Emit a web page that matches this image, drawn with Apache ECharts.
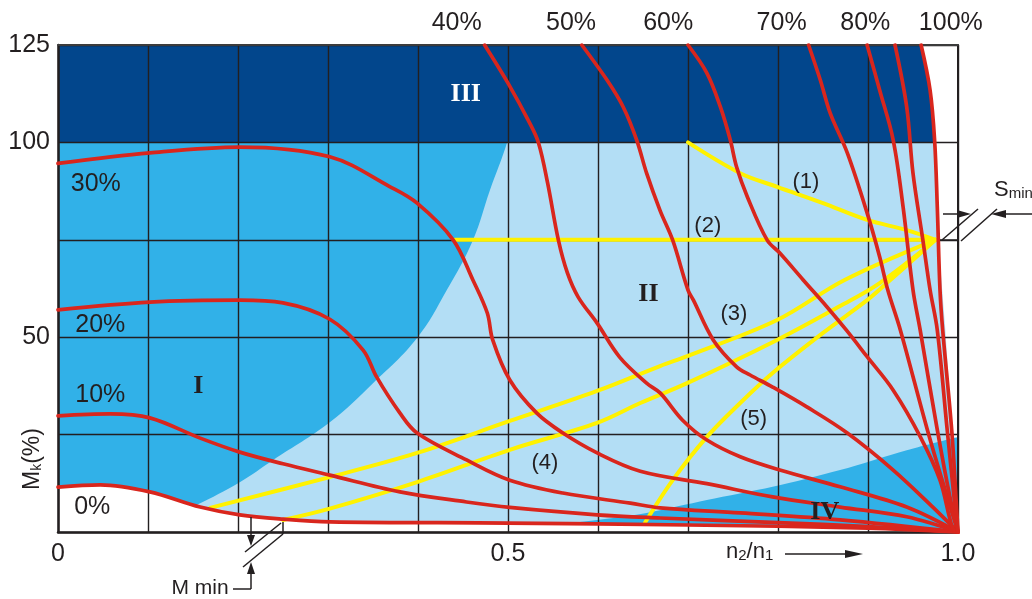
<!DOCTYPE html>
<html><head><meta charset="utf-8">
<script src="https://cdn.jsdelivr.net/npm/echarts@6/dist/echarts.min.js"></script>
<style>html,body{margin:0;padding:0;background:#fff}#c{width:1032px;height:599px}</style>
</head><body><div id="c"></div>
<script>
// ---------- tick labels ----------
const X_TICK_LABELS = [[0, '0'], [0.5, '0.5'], [1, '1.0']];
const Y_TICK_LABELS = [[125, '125'], [100, '100'], [50, '50']];

// ---------- background regions (x = n2/n1, y = Mk %) ----------
const regionII  = [[0,100],[0.974,100],[0.978,75],[0.986,51.8],[0.994,23.6],[1,0]];
const regionI   = [[0,110],[0.51,110],[0.499,100],[0.48,87.8],[0.461,74.9],[0.432,62.1],[0.399,49.8],[0.35,38.2],[0.302,28.2],[0.239,18.5],[0.202,12.8],[0.154,6.9],[0.12,3]];
const regionIV  = [[0.42,0],[0.5,0.8],[0.599,3.1],[0.654,4.9],[0.721,8.2],[0.794,11.6],[0.869,15.9],[0.943,21.0],[1,24.4]];
const regionIII = [[0,125],[0.959,125],[0.969,113.4],[0.974,100]];

// ---------- red curves (slip / speed percentages) ----------
const slip0   = [[0,11.5],[0.047,12.1],[0.102,10.3],[0.158,6.4],[0.202,4.4],[0.25,3.3],[0.302,2.6],[0.5,2.3],[0.7,1.8],[0.9,1.0],[1,0]];
const slip10  = [[0,29.8],[0.058,30.3],[0.102,29.3],[0.158,24.1],[0.202,20.5],[0.25,17.5],[0.302,14.6],[0.38,10.3],[0.454,7.7],[0.502,6.3],[0.599,4.4],[0.669,3.6],[0.8,2.4],[0.9,1.4],[1,0]];
const slip20  = [[0,57.0],[0.102,59.0],[0.202,59.5],[0.25,58.8],[0.302,54.6],[0.339,46.7],[0.354,39.8],[0.38,30.5],[0.399,25.4],[0.454,18.5],[0.502,13.3],[0.561,10.0],[0.636,7.4],[0.669,6.2],[0.758,4.9],[0.869,3.1],[1,0]];
const slip30  = [[0,94.6],[0.102,97.3],[0.202,98.8],[0.302,96.3],[0.369,88.6],[0.399,84.4],[0.439,75.0],[0.461,64.7],[0.477,56.2],[0.483,49.3],[0.502,39.0],[0.532,30.5],[0.561,25.4],[0.599,20.3],[0.647,15.6],[0.721,12.4],[0.794,9.0],[0.869,6.4],[0.943,3.9],[1,0]];
const slip40  = [[0.474,125],[0.5,115.2],[0.524,105.0],[0.534,99.8],[0.544,89.6],[0.556,74.9],[0.566,66.5],[0.578,60.3],[0.599,53.6],[0.624,44.9],[0.654,38.2],[0.669,35.7],[0.694,28.7],[0.721,23.6],[0.758,19.3],[0.802,15.9],[0.869,11.6],[0.943,6.4],[1,0]];
const slip50  = [[0.582,125],[0.61,116.0],[0.628,109.1],[0.643,100.6],[0.654,92.1],[0.669,82.5],[0.683,74.9],[0.7,62.1],[0.706,59.5],[0.728,49.3],[0.754,42.4],[0.769,40.3],[0.794,37.2],[0.832,32.1],[0.877,25.4],[0.928,15.9],[0.972,6.4],[1,0]];
const slip60  = [[0.7,125],[0.721,117.8],[0.736,109.1],[0.747,100.6],[0.754,93.7],[0.766,86.0],[0.788,74.9],[0.802,71.6],[0.828,64.7],[0.854,57.9],[0.876,51.8],[0.899,45.0],[0.928,36.4],[0.958,24.5],[0.98,13.3],[0.994,1.0],[1,0]];
const slip70  = [[0.834,125],[0.847,116.0],[0.858,107.5],[0.877,97.3],[0.899,81.9],[0.913,70.6],[0.922,62.1],[0.936,51.8],[0.966,26.2],[0.988,9.0],[1,0]];
const slip80  = [[0.899,125],[0.913,113.4],[0.928,100.6],[0.939,83.4],[0.95,62.1],[0.958,51.8],[0.977,26.2],[0.991,9.0],[1,0]];
const slip90  = [[0.93,125],[0.943,109.1],[0.95,92.1],[0.961,74.9],[0.969,62.1],[0.977,51.8],[0.988,26.2],[0.996,8],[1,0]];
const slip100 = [[0.959,125],[0.969,113.4],[0.974,100.6],[0.977,83.4],[0.98,62.1],[0.983,51.8],[0.993,26.2],[0.998,8],[1,0]];

// ---------- yellow load curves (1)-(5) ----------
const load1 = [[0.7,100],[0.758,92.1],[0.799,88.6],[0.85,84.4],[0.899,80.1],[0.943,77.5],[0.975,75]];
const load2 = [[0.441,75],[0.975,75]];
const load3 = [[0.169,6.2],[0.302,14.1],[0.399,20.3],[0.502,28.5],[0.599,36.2],[0.669,42.6],[0.7,45.2],[0.799,54.4],[0.874,64.7],[0.975,75]];
const load4 = [[0.25,3.1],[0.302,6.0],[0.399,12.8],[0.502,21.1],[0.599,28.0],[0.647,33.1],[0.699,38.2],[0.799,49.3],[0.869,58.0],[0.913,63.9],[0.975,75]];
const load5 = [[0.652,2.3],[0.683,13.3],[0.721,24.4],[0.758,33.1],[0.794,40.8],[0.85,51.1],[0.899,59.5],[0.921,63.9],[0.975,75]];

// ---------- text annotations ----------
const topLabels   = [[0.443,'40%'],[0.57,'50%'],[0.678,'60%'],[0.804,'70%'],[0.897,'80%'],[0.992,'100%']];
const sideLabels  = [[0.042,89.3,'30%'],[0.047,53.1,'20%'],[0.047,35.2,'10%'],[0.038,6.4,'0%']];
const romanLabels = [[0.453,112.4,'III'],[0.656,61.1,'II'],[0.156,37.5,'I'],[0.852,5.1,'IV']];
const loadLabels  = [[0.831,89.8,'(1)'],[0.722,78.5,'(2)'],[0.751,56.0,'(3)'],[0.541,17.7,'(4)'],[0.773,29.0,'(5)']];

// ---------- styling ----------
const INK = '#231f20', RED = '#d9261d', YELLOW = '#fff200';
const DARK = '#02468c', MID = '#31b1e8', LIGHT = '#b3def5';
const FONT = "'Liberation Sans', Arial, Helvetica, sans-serif";
const SERIF = "'Liberation Serif', 'Times New Roman', serif";

function areaSeries(data, color, z, origin, smooth) {
  return { type: 'line', data, symbol: 'none', silent: true, z, smooth: smooth || false,
    lineStyle: { width: 0, opacity: 0 }, areaStyle: { color, opacity: 1, origin } };
}
function curve(data, color, width, z) {
  return { type: 'line', data, symbol: 'none', silent: true, z, smooth: 0.35,
    lineStyle: { color, width, cap: 'round', join: 'round' } };
}
function labelFor(list, v) {
  for (const [t, s] of list) if (Math.abs(v - t) < 1e-6) return s;
  return '';
}
function textSeries(items, labelStyle, z) {
  return { type: 'scatter', symbolSize: 0, silent: true, z, clip: false,
    itemStyle: { opacity: 1 },
    data: items.map(d => ({ value: [d[0], d[1]], name: d[2],
      label: d[2] === 'III' ? { color: '#ffffff' } : undefined })),
    label: Object.assign({ show: true, position: 'inside', formatter: '{b}', opacity: 1 }, labelStyle) };
}

const chart = echarts.init(document.getElementById('c'), null, { renderer: 'canvas' });

const g = [];
function gl(x1, y1, x2, y2, w) { g.push({ type: 'line', z: 20, shape: { x1, y1, x2, y2 }, style: { stroke: INK, lineWidth: w || 1.5 } }); }
function gp(points) { g.push({ type: 'polygon', z: 20, shape: { points }, style: { fill: INK } }); }
// S min marker
gl(940, 240, 957, 240); gl(942, 240, 978, 209); gl(961, 241, 997, 209);
gl(943, 214, 960, 214); gp([[957, 210], [971, 214], [957, 218]]);
gl(1032, 214, 1004, 214); gp([[1006, 210], [991, 214], [1006, 218]]);
g.push({ type: 'text', z: 20, x: 994, y: 201, style: { text: '{s|S}{m|min}', fill: INK, textVerticalAlign: 'bottom',
  rich: { s: { fontSize: 22, fontFamily: FONT, fill: INK, verticalAlign: 'bottom' }, m: { fontSize: 15, fontFamily: FONT, fill: INK, verticalAlign: 'bottom' } } } });
// M min marker
gl(251, 517, 251, 538); gp([[247, 535], [251, 546], [255, 535]]);
gl(245, 552, 281, 523); gl(283, 522, 283, 534); gl(283, 534, 243, 567);
gl(251, 589, 251, 572); gp([[247, 574], [251, 562], [255, 574]]);
gl(233, 589, 251, 589);
g.push({ type: 'text', z: 20, x: 200, y: 588, style: { text: 'M min', fontSize: 21, fontFamily: FONT, fill: INK, textAlign: 'center', textVerticalAlign: 'middle' } });
// n2/n1 label with arrow
g.push({ type: 'text', z: 20, x: 726, y: 563, style: { text: '{n|n}{s|2}{n|/n}{s|1}', fill: INK, textVerticalAlign: 'bottom',
  rich: { n: { fontSize: 22, fontFamily: FONT, fill: INK, verticalAlign: 'bottom' }, s: { fontSize: 15, fontFamily: FONT, fill: INK, verticalAlign: 'bottom' } } } });
gl(785, 554, 850, 554); gp([[845, 550], [863, 554], [845, 558]]);
// Mk(%) axis title
g.push({ type: 'text', z: 20, x: 33, y: 459, rotation: Math.PI / 2, style: { text: '{m|M}{k|k}{m|(%)}', fill: INK, textAlign: 'center', textVerticalAlign: 'middle',
  rich: { m: { fontSize: 23, fontFamily: FONT, fill: INK, verticalAlign: 'bottom' }, k: { fontSize: 14, fontFamily: FONT, fill: INK, verticalAlign: 'bottom' } } } });

const axisCommon = { axisTick: { show: false }, z: 4 };
chart.setOption({
  animation: false,
  backgroundColor: '#ffffff',
  grid: { left: 58, right: 74, top: 45, bottom: 67, containLabel: false },
  xAxis: [
    Object.assign({ type: 'value', min: 0, max: 1, interval: 0.1,
      axisLine: { show: true, onZero: false, lineStyle: { color: INK, width: 2.5 } },
      splitLine: { show: true, lineStyle: { color: INK, width: 1.4 } },
      axisLabel: { showMinLabel: true, showMaxLabel: true, margin: 10, fontSize: 25, color: INK, fontFamily: FONT,
        formatter: v => labelFor(X_TICK_LABELS, v) } }, axisCommon),
    Object.assign({ type: 'value', min: 0, max: 1, position: 'top',
      axisLine: { show: true, onZero: false, lineStyle: { color: '#3c3c3c', width: 2 } },
      splitLine: { show: false }, axisLabel: { show: false } }, axisCommon)
  ],
  yAxis: [
    Object.assign({ type: 'value', min: 0, max: 125, interval: 25,
      axisLine: { show: true, onZero: false, lineStyle: { color: INK, width: 2.5 } },
      splitLine: { show: true, lineStyle: { color: INK, width: 1.4 } },
      axisLabel: { showMinLabel: true, showMaxLabel: true, margin: 8, fontSize: 25, color: INK, fontFamily: FONT,
        formatter: v => labelFor(Y_TICK_LABELS, v) } }, axisCommon),
    Object.assign({ type: 'value', min: 0, max: 125, position: 'right',
      axisLine: { show: true, onZero: false, lineStyle: { color: INK, width: 2 } },
      splitLine: { show: false }, axisLabel: { show: false } }, axisCommon)
  ],
  series: [
    areaSeries(regionII, LIGHT, 1, 'start'),
    areaSeries(regionI, MID, 2, 'start', 0.4),
    areaSeries(regionIV, MID, 2, 'start', 0.3),
    areaSeries(slip0, '#ffffff', 3, 'start', 0.35),
    areaSeries(regionIII, DARK, 3, 100),
    curve(load1, YELLOW, 4, 5), curve(load2, YELLOW, 4, 5), curve(load3, YELLOW, 4, 5),
    curve(load4, YELLOW, 4, 5), curve(load5, YELLOW, 4, 5),
    curve(slip0, RED, 3.7, 6), curve(slip10, RED, 3.7, 6), curve(slip20, RED, 3.7, 6),
    curve(slip30, RED, 3.7, 6), curve(slip40, RED, 3.7, 6), curve(slip50, RED, 3.7, 6),
    curve(slip60, RED, 3.7, 6), curve(slip70, RED, 3.7, 6), curve(slip80, RED, 3.7, 6),
    curve(slip90, RED, 3.7, 6), curve(slip100, RED, 3.7, 6),
    textSeries(sideLabels, { fontSize: 25, color: INK, fontFamily: FONT }, 8),
    textSeries(romanLabels, { fontSize: 26, color: INK, fontFamily: SERIF, fontWeight: 'bold' }, 8),
    textSeries(loadLabels, { fontSize: 22, color: INK, fontFamily: FONT }, 8),
    { type: 'scatter', symbolSize: 0, silent: true, z: 8, clip: false, itemStyle: { opacity: 1 },
      data: topLabels.map(d => ({ value: [d[0], 125], name: d[1] })),
      label: { show: true, position: 'inside', offset: [0, -22], formatter: '{b}', fontSize: 25, color: INK, fontFamily: FONT, opacity: 1 } }
  ],
  graphic: g
});
</script>
</body></html>
